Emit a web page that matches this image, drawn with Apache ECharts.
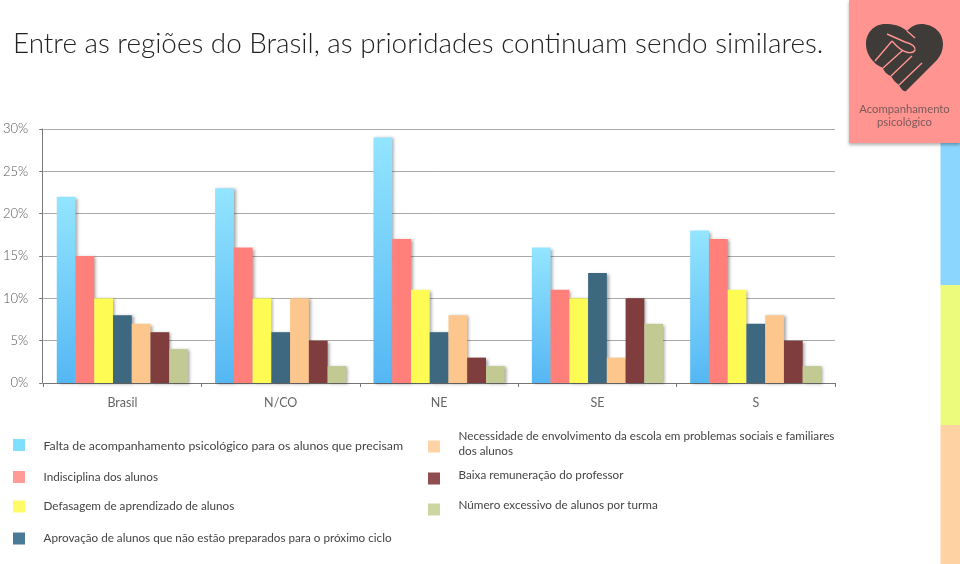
<!DOCTYPE html>
<html>
<head>
<meta charset="utf-8">
<style>html,body{margin:0;padding:0;background:#fff}#c{width:960px;height:564px}</style>
<script src="https://cdn.jsdelivr.net/npm/echarts@6/dist/echarts.min.js"></script>
</head>
<body>
<div id="c"></div>
<script>
const categories = ['Brasil', 'N/CO', 'NE', 'SE', 'S'];
const titleText = 'Entre as regiões do Brasil, as prioridades continuam sendo similares.';
const badgeLines = ['Acompanhamento', 'psicológico'];
const seriesNames = [
  'Falta de acompanhamento psicológico para os alunos que precisam',
  'Indisciplina dos alunos',
  'Defasagem de aprendizado de alunos',
  'Aprovação de alunos que não estão preparados para o próximo ciclo',
  'Necessidade de envolvimento da escola em problemas sociais e familiares dos alunos',
  'Baixa remuneração do professor',
  'Número excessivo de alunos por turma'
];
const falta = [22, 23, 29, 16, 18];
const indisciplina = [15, 16, 17, 11, 17];
const defasagem = [10, 10, 11, 10, 11];
const aprovacao = [8, 6, 6, 13, 7];
const necessidade = [7, 10, 8, 3, 8];
const remuneracao = [6, 5, 3, 10, 5];
const numero = [4, 2, 2, 7, 2];
const seriesValues = [falta, indisciplina, defasagem, aprovacao, necessidade, remuneracao, numero];
const barColors = [
  {type:'linear',x:0,y:0,x2:0,y2:1,colorStops:[{offset:0,color:'#93e5ff'},{offset:1,color:'#55b7f3'}]},
  '#ff7f7b','#fffb55','#3d6880','#fcc68d','#7f3d3d','#c2c993'
];
const swatchColors = ['#80dfff','#ff9a96','#fffb66','#4a7a96','#ffd3a5','#8f4d50','#ccd6a0'];
// [icon left, icon top, text offset from icon centre, text lines, font size]
const legendPos = [[13,438,1.5,1,12.3],[13,469,0.5,1,11.7],[13,500,0,1,11.7],[13,532,-0.5,1,11.7],[428,440,-2.5,2,11.7],[428,472,-3,1,11.7],[428,503,-4,1,11.7]];
const wrapTail = ' dos alunos';

echarts.graphic.registerShape('heartBody', echarts.graphic.extendPath('M907 31C900 25 893 24 885 24C874 24 866 33 866 44C866 52 870 58 874 62C876 65 880 66 883 68C884 72 888 75 891 76C893 80 896 83 899 85C901 89 904 92 906 91L937 60C941 55 943 50 943 44C943 33 934 24 921 24C915 24 911 27 907 31Z'));
echarts.graphic.registerShape('heartLines', echarts.graphic.extendPath('M875 61L892 41M883 68L903 50M891 76L912 56M899 85L922 63M887 34L905 42C912 44 916 46 915 50C914 53 910 53 906 52C902 51 899 49 892 41M907 31L915 38'));

function legendText(name, i) {
  const [, , d, lines] = legendPos[i];
  let body;
  if (lines === 2) {
    const cut = name.lastIndexOf(wrapTail);
    body = '{t|' + name.slice(0, cut) + '}\n{t|' + name.slice(cut + 1) + '}';
  } else {
    body = '{t|' + name + '}';
  }
  if (d > 0) return '{g| }\n' + body;
  if (d < 0) return body + '\n{g| }';
  return body;
}

const chart = echarts.init(document.getElementById('c'), null, {renderer:'canvas', width:960, height:564});
const FONT = 'Lato';
chart.setOption({
  animation:false,
  backgroundColor:'#fff',
  grid:{left:43,right:125,top:129,bottom:181,containLabel:false},
  xAxis:{type:'category',data:categories,
    axisLine:{lineStyle:{color:'#777',width:1}},
    axisTick:{show:true,length:4,lineStyle:{color:'#777'}},
    axisLabel:{color:'#666',fontFamily:FONT,fontSize:12.5,margin:13}},
  yAxis:{type:'value',min:0,max:30,interval:5,offset:1,
    axisLine:{show:true,lineStyle:{color:'#777',width:1}},
    axisTick:{show:true,length:3,lineStyle:{color:'#777'}},
    splitLine:{lineStyle:{color:'#aaa',width:1}},
    axisLabel:{color:'#555',fontFamily:FONT,fontSize:13,fontWeight:300,margin:14,formatter:'{value}%'}},
  legend:seriesNames.map((n,i)=>{
    const [x,y,d,lines,fs]=legendPos[i];
    const g=Math.abs(d)*2;
    return {
      show:true,left:x,top:y-(15*lines+g-12)/2+2,padding:0,orient:'vertical',
      selectedMode:false,icon:'rect',itemWidth:12,itemHeight:12,
      data:[{name:n,itemStyle:{color:swatchColors[i],shadowBlur:0,shadowOffsetX:0,shadowOffsetY:0}}],
      formatter:(name)=>legendText(name,i),
      textStyle:{padding:[0,0,0,13.5],
        rich:{
          t:{color:'#444',fontFamily:FONT,fontSize:fs,lineHeight:15},
          g:{fontSize:1,lineHeight:g||1}
        }}
    };
  }),
  series:seriesNames.map((n,i)=>({
    name:n,type:'bar',data:seriesValues[i],barWidth:18.75,barGap:0,
    itemStyle:{color:barColors[i],shadowColor:'rgba(0,0,0,0.35)',shadowBlur:3,shadowOffsetX:2,shadowOffsetY:1}
  })),
  graphic:[
    {type:'text',silent:true,style:{text:titleText,x:13,y:44,verticalAlign:'middle',fill:'#222',font:'300 27.85px '+FONT}},
    {type:'rect',silent:true,z:10,shape:{x:940.5,y:143,width:19.5,height:142},style:{fill:'#8ad6ff'}},
    {type:'rect',silent:true,z:10,shape:{x:940.5,y:285,width:19.5,height:140},style:{fill:'#ecfb7c'}},
    {type:'rect',silent:true,z:10,shape:{x:940.5,y:425,width:19.5,height:139},style:{fill:'#ffd2a4'}},
    {type:'rect',silent:true,z:11,shape:{x:849,y:0,width:111,height:143},
      style:{fill:'#ff9490',shadowColor:'rgba(0,0,0,0.3)',shadowBlur:3,shadowOffsetY:2}},
    {type:'heartBody',silent:true,z:12,style:{fill:'#3f3b39'}},
    {type:'heartLines',silent:true,z:13,style:{fill:'none',stroke:'#ff9490',lineWidth:1.4}},
    {type:'text',silent:true,z:13,style:{text:badgeLines[0],x:904.5,y:109.5,align:'center',verticalAlign:'middle',fill:'#7c5a5a',font:'11.3px '+FONT}},
    {type:'text',silent:true,z:13,style:{text:badgeLines[1],x:904.5,y:122.5,align:'center',verticalAlign:'middle',fill:'#7c5a5a',font:'11.3px '+FONT}}
  ]
});
</script>
</body>
</html>
